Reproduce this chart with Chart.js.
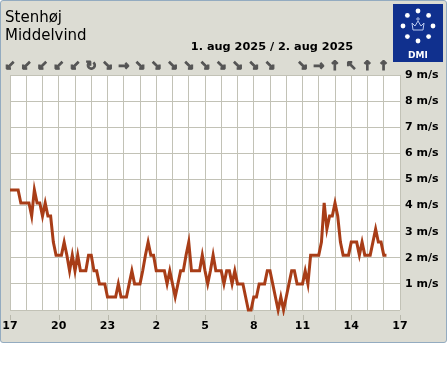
<!DOCTYPE html>
<html>
<head>
<meta charset="utf-8">
<script src="https://cdn.jsdelivr.net/npm/chart.js@4.4.1/dist/chart.umd.min.js"></script>
<style>
  body { margin: 0; background: #fff; }
  #panel {
    position: absolute; left: 0; top: 0; width: 447px; height: 343px;
    box-sizing: border-box; background: #dcdcd3;
    border: 1.5px solid #93abc0; border-radius: 3px;
  }
  #chart { position: absolute; left: 0; top: 0; }
</style>
</head>
<body>
<div id="panel"></div>
<canvas id="chart" width="447" height="343"></canvas>
<script>
var station  = 'Stenhøj';
var quantity = 'Middelvind';
var dateText = '1. aug 2025 / 2. aug 2025';

// hour labels on the time axis, every 3 hours from 17:00
var hourTicks = [17, 20, 23, 2, 5, 8, 11, 14, 17];

// wind direction, one per hour from 17:00 ('' = missing)
var windDir = ['↙', '↙', '↙', '↙', '↙', '↻', '↘', '→', '↘', '↘', '↘', '↘',
               '↘', '↘', '↘', '↘', '↘', '',  '↘', '→', '↑', '↖', '↑', '↑'];

// mean wind (m/s), 10-minute samples starting 17:00
var windSpeed = [
  4.6, 4.6, 4.6, 4.6, 4.1, 4.1, 4.1, 4.1, 3.6, 4.6, 4.1, 4.1,
  3.6, 4.1, 3.6, 3.6, 2.6, 2.1, 2.1, 2.1, 2.6, 2.1, 1.5, 2.1,
  1.5, 2.1, 1.5, 1.5, 1.5, 2.1, 2.1, 1.5, 1.5, 1.0, 1.0, 1.0,
  0.5, 0.5, 0.5, 0.5, 1.0, 0.5, 0.5, 0.5, 1.0, 1.5, 1.0, 1.0,
  1.0, 1.5, 2.1, 2.6, 2.1, 2.1, 1.5, 1.5, 1.5, 1.5, 1.0, 1.5,
  1.0, 0.5, 1.0, 1.5, 1.5, 2.1, 2.6, 1.5, 1.5, 1.5, 1.5, 2.1,
  1.5, 1.0, 1.5, 2.1, 1.5, 1.5, 1.5, 1.0, 1.5, 1.5, 1.0, 1.5,
  1.0, 1.0, 1.0, 0.5, 0.0, 0.0, 0.5, 0.5, 1.0, 1.0, 1.0, 1.5,
  1.5, 1.0, 0.5, 0.0, 0.5, 0.0, 0.5, 1.0, 1.5, 1.5, 1.0, 1.0,
  1.0, 1.5, 1.0, 2.1, 2.1, 2.1, 2.1, 2.6, 4.1, 3.1, 3.6, 3.6,
  4.1, 3.6, 2.6, 2.1, 2.1, 2.1, 2.6, 2.6, 2.6, 2.1, 2.6, 2.1,
  2.1, 2.1, 2.6, 3.1, 2.6, 2.6, 2.1, 2.1
];

var FONT = '"DejaVu Sans", sans-serif';

/*
 * white plot background
 */
var plotBackground = {
  id: 'plotBackground',
  beforeDraw: function (c) {
    var a = c.chartArea, ctx = c.ctx;
    ctx.save();
    ctx.fillStyle = '#ffffff';
    ctx.fillRect(a.left, a.top, a.right - a.left, a.bottom - a.top);
    ctx.restore();
  }
};

/*
 * header texts, wind arrows, small hour ticks and the logo
 */
var decorations = {
  id: 'decorations',
  afterDraw: function (c) {
    var ctx = c.ctx, x = c.scales.x, a = c.chartArea;
    ctx.save();

    ctx.fillStyle = '#000';
    ctx.textBaseline = 'alphabetic';
    ctx.textAlign = 'left';
    ctx.font = '15px ' + FONT;
    ctx.fillText(station, 5, 22);
    ctx.fillText(quantity, 5, 40);
    ctx.font = 'bold 11.3px ' + FONT;
    ctx.textAlign = 'center';
    ctx.fillText(dateText, 272, 50);

    // wind direction row
    ctx.fillStyle = '#555555';
    ctx.strokeStyle = '#555555';
    ctx.lineWidth = 1.1;
    ctx.font = 'bold 13px ' + FONT;
    ctx.textBaseline = 'middle';
    for (var i = 0; i < windDir.length; i++) {
      var ax = x.getPixelForValue(i);
      ctx.fillText(windDir[i], ax, 67);
      ctx.strokeText(windDir[i], ax, 67);
    }

    // tick marks under labelled hours
    ctx.strokeStyle = '#b8b8ac';
    ctx.lineWidth = 1;
    for (var j = 0; j < hourTicks.length; j++) {
      var px = Math.round(x.getPixelForValue(j * 3)) + 0.5;
      ctx.beginPath();
      ctx.moveTo(px, a.bottom + 5);
      ctx.lineTo(px, a.bottom + 10);
      ctx.stroke();
    }

    // DMI logo
    ctx.fillStyle = '#10308e';
    ctx.fillRect(393, 4, 50, 58);
    ctx.fillStyle = '#ffffff';
    for (var k = 0; k < 8; k++) {
      var ang = k * Math.PI / 4;
      ctx.beginPath();
      ctx.arc(418 + 15 * Math.sin(ang), 26 - 15 * Math.cos(ang), 2.4, 0, 2 * Math.PI);
      ctx.fill();
    }
    ctx.strokeStyle = '#b9c8ee';
    ctx.lineWidth = 1;
    ctx.beginPath();
    ctx.moveTo(413, 30); ctx.lineTo(412, 23); ctx.lineTo(415, 26);
    ctx.lineTo(418, 21); ctx.lineTo(421, 26); ctx.lineTo(424, 23);
    ctx.lineTo(423, 30); ctx.closePath();
    ctx.stroke();
    ctx.beginPath();
    ctx.arc(418, 19, 1.2, 0, 2 * Math.PI);
    ctx.stroke();
    ctx.fillStyle = '#ffffff';
    ctx.font = 'bold 9px ' + FONT;
    ctx.textAlign = 'center';
    ctx.textBaseline = 'alphabetic';
    ctx.fillText('DMI', 418, 58);

    ctx.restore();
  }
};

var chart = new Chart('chart', {
  type: 'line',
  data: {
    datasets: [{
      data: windSpeed.map(function (v, i) { return { x: i / 6, y: v }; }),
      borderColor: '#a83d17',
      borderWidth: 3,
      pointRadius: 0,
      tension: 0,
      fill: false,
      clip: 6
    }]
  },
  options: {
    responsive: false,
    animation: false,
    events: [],
    layout: { padding: { left: 10, top: 75, right: 0, bottom: 0 } },
    plugins: { legend: { display: false }, tooltip: { enabled: false } },
    scales: {
      x: {
        type: 'linear',
        min: 0,
        max: 24,
        afterFit: function (s) {
          s.height = 33;
          s.paddingLeft = 0;
          s.paddingRight = 0;
        },
        border: { display: false },
        grid: { color: '#c2c2b6', drawTicks: false },
        ticks: {
          stepSize: 1,
          autoSkip: false,
          maxRotation: 0,
          padding: 10,
          color: '#000',
          font: { family: FONT, size: 11, weight: 'bold' },
          callback: function (v) {
            v = Math.round(v);
            return v % 3 === 0 ? String(hourTicks[v / 3]) : '';
          }
        }
      },
      y: {
        position: 'right',
        min: 0,
        max: 9,
        afterFit: function (s) {
          s.width = 47;
          s.paddingTop = 0;
          s.paddingBottom = 0;
        },
        border: { display: false },
        grid: { color: '#c2c2b6', drawTicks: false },
        ticks: {
          stepSize: 1,
          padding: 5,
          color: '#000',
          font: { family: FONT, size: 11, weight: 'bold' },
          callback: function (v) { return v === 0 ? '' : v + ' m/s'; }
        }
      }
    }
  },
  plugins: [plotBackground, decorations]
});
</script>
</body>
</html>
